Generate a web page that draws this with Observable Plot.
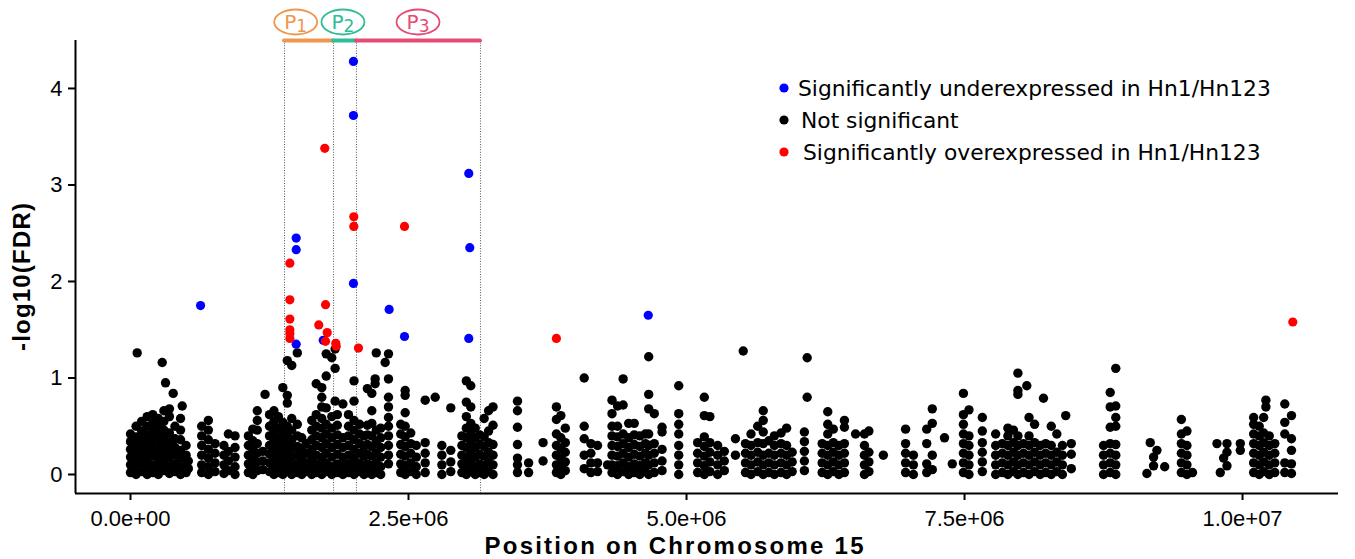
<!DOCTYPE html>
<html>
<head>
<meta charset="utf-8">
<script src="https://cdn.jsdelivr.net/npm/d3@7"></script>
<script src="https://cdn.jsdelivr.net/npm/@observablehq/plot@0.6"></script>
<style>
  html, body { margin: 0; padding: 0; background: #fff; }
  #chart { position: relative; width: 1355px; height: 559px; overflow: hidden; }
  #chart svg g[aria-label*="axis"] path,
  #chart svg g[aria-label*="axis"] line { stroke-width: 2px; stroke: #000; }
</style>
</head>
<body>
<div id="chart"></div>
<script>
// ---------- data (positions in Mb on chromosome 15, values = -log10(FDR)) ----------
const xTickValues = [0, 2.5, 5, 7.5, 10];
const xTickLabels = ["0.0e+00", "2.5e+06", "5.0e+06", "7.5e+06", "1.0e+07"];
const yTickValues = [0, 1, 2, 3, 4];
const yTickLabels = ["0", "1", "2", "3", "4"];

const regionNames = ["1", "2", "3"];
const regionStart = [1.385, 1.826, 2.032];
const regionEnd = [1.826, 2.032, 3.147];
const regionLabelAt = [1.49, 1.915, 2.59];
const regionColors = ["#F0964F", "#2EBD96", "#E64B74"];

const legendLabels = [
  "Significantly underexpressed in Hn1/Hn123",
  "Not significant",
  "Significantly overexpressed in Hn1/Hn123"
];
const legendColors = ["#0000FF", "#000000", "#FF0000"];

const underexpressed = [
  [0.63, 1.75], [1.49, 2.45], [1.49, 2.33], [1.49, 1.35], [1.733, 1.39],
  [2.005, 4.28], [2.005, 3.72], [2.005, 1.98], [2.326, 1.71], [2.464, 1.43],
  [3.042, 3.12], [3.051, 2.35], [3.042, 1.41], [4.656, 1.65]
];

const overexpressed = [
  [1.747, 3.38], [1.433, 2.19], [1.433, 1.81], [1.433, 1.61], [1.433, 1.50],
  [1.433, 1.46], [1.433, 1.41], [1.693, 1.55], [1.754, 1.76], [1.769, 1.47],
  [1.754, 1.38], [1.846, 1.36], [1.85, 1.33], [2.008, 2.67], [2.008, 2.57],
  [2.464, 2.57], [2.05, 1.31], [3.83, 1.41], [10.452, 1.58]
];

const notSignificant = [
  [0.00, [0.02,0.1,0.18,0.26,0.34,0.42]],
  [0.05, [0,0.07,0.15,0.23,0.31,0.39,0.5]],
  [0.06, [1.26]],
  [0.10, [0.03,0.12,0.2,0.28,0.36,0.45,0.55]],
  [0.15, [0,0.08,0.16,0.25,0.33,0.41,0.5,0.6]],
  [0.20, [0.02,0.1,0.19,0.27,0.36,0.44,0.53,0.62]],
  [0.25, [0,0.09,0.17,0.25,0.34,0.42,0.5,0.58]],
  [0.285, [1.16]],
  [0.30, [0.04,0.12,0.2,0.29,0.37,0.46,0.55,0.66]],
  [0.315, [0.95]],
  [0.35, [0.01,0.09,0.18,0.26,0.34,0.43,0.6,0.68]],
  [0.384, [0.84]],
  [0.40, [0.03,0.11,0.2,0.28,0.37,0.5]],
  [0.45, [0,0.08,0.17,0.25,0.36,0.46,0.58]],
  [0.465, [0.71]],
  [0.50, [0.02,0.1,0.2,0.3]],
  [0.52, [0.06,0.14]],
  [0.64, [0.02,0.1,0.2,0.3,0.4,0.5]],
  [0.70, [0,0.08,0.17,0.26,0.36,0.46,0.56]],
  [0.76, [0.03,0.12,0.22,0.32]],
  [0.84, [0.01,0.1,0.2,0.3]],
  [0.88, [0.04,0.14,0.24,0.42]],
  [0.94, [0,0.08,0.18,0.28,0.4]],
  [1.06, [0.02,0.11,0.2,0.3,0.4]],
  [1.10, [0,0.08,0.17,0.26,0.35,0.47]],
  [1.14, [0.04,0.13,0.22,0.32,0.46,0.56,0.66]],
  [1.19, [0.05,0.14,0.24]],
  [1.21, [0.83]],
  [1.25, [0.03,0.12,0.21,0.3,0.4,0.5,0.62]],
  [1.29, [0,0.09,0.18,0.27,0.36,0.45,0.55,0.66]],
  [1.33, [0.02,0.11,0.2,0.29,0.38,0.48,0.6]],
  [1.37, [0,0.08,0.17,0.26,0.35,0.44,0.54,0.9]],
  [1.41, [0.03,0.12,0.21,0.3,0.4,0.5,0.74,0.82,1.18]],
  [1.45, [0,0.09,0.18,0.27,0.36,0.46,0.58,1.13]],
  [1.50, [0.02,0.11,0.2,0.29,0.4,0.52,1.26]],
  [1.54, [0,0.08,0.17,0.27,0.38]],
  [1.58, [0.03,0.12,0.22,0.32]],
  [1.63, [0,0.08,0.17,0.26,0.36,0.46,0.56]],
  [1.67, [0.02,0.11,0.2,0.3,0.4,0.5,0.62,0.94]],
  [1.72, [0,0.09,0.18,0.28,0.38,0.48,0.58,0.7,0.8,0.9]],
  [1.76, [0.03,0.12,0.22,0.32,0.42,0.52,0.69,1.02,1.25]],
  [1.81, [0,0.08,0.18,0.28,0.38,0.48,0.6,1.21]],
  [1.84, [0.76,1.1,1.3]],
  [1.86, [0.02,0.11,0.21,0.31,0.41,0.51,0.62]],
  [1.91, [0,0.09,0.18,0.28,0.38,0.73]],
  [1.96, [0.02,0.11,0.2,0.3,0.4,0.5,0.62]],
  [2.01, [0,0.08,0.17,0.26,0.36,0.46,0.56,0.76,0.97]],
  [2.06, [0.03,0.12,0.22,0.32,0.42,0.52]],
  [2.10, [0,0.09,0.19,0.29,0.4]],
  [2.13, [0.02,0.11,0.21,0.31,0.41,0.51,0.89]],
  [2.17, [0,0.09,0.19,0.29,0.4,0.53,0.66,0.84]],
  [2.20, [0.94,0.99]],
  [2.21, [0.02,0.12,0.22,0.34,0.46,1.26]],
  [2.25, [0,0.08,0.18,0.28,0.38,0.48]],
  [2.29, [1.16]],
  [2.32, [0.11,0.2,0.3,0.4,0.5,0.59,0.7,0.8,0.99,1.25]],
  [2.43, [0.02,0.11,0.21,0.31,0.42,0.52]],
  [2.47, [0,0.09,0.19,0.29,0.39,0.5,0.64,0.82,0.87]],
  [2.52, [0.03,0.12,0.22,0.32,0.43]],
  [2.57, [0,0.08,0.18,0.3]],
  [2.65, [0.02,0.12,0.22,0.33,0.77]],
  [2.74, [0.8]],
  [2.80, [0,0.1,0.2,0.3]],
  [2.88, [0.03,0.13,0.25,0.69]],
  [2.98, [0.02,0.11,0.2,0.3,0.4]],
  [3.02, [0,0.09,0.18,0.28,0.38,0.48,0.6,0.75,0.97]],
  [3.06, [0.03,0.12,0.22,0.32,0.42,0.53,0.7,0.92]],
  [3.10, [0,0.08,0.18,0.28,0.38,0.48]],
  [3.14, [0.02,0.11,0.21,0.31,0.41]],
  [3.18, [0,0.09,0.19,0.29,0.39,0.58]],
  [3.22, [0.03,0.13,0.23,0.33,0.45,0.66]],
  [3.26, [0,0.1,0.2,0.31,0.51,0.7]],
  [3.48, [0.02,0.1,0.17,0.31,0.49,0.66,0.76]],
  [3.58, [0.02,0.12]],
  [3.71, [0.14,0.33]],
  [3.83, [0.02,0.1,0.2,0.3,0.42,0.57,0.7]],
  [3.87, [0,0.08,0.17,0.27,0.38,0.61]],
  [3.91, [0.04,0.13,0.23,0.33,0.48]],
  [4.08, [0.06,0.2,0.37,0.5,1.0]],
  [4.14, [0.02,0.12,0.22,0.32]],
  [4.20, [0.03,0.12,0.3]],
  [4.29, [0.1]],
  [4.33, [0.02,0.1,0.2,0.3,0.4,0.5,0.63,0.77]],
  [4.38, [0,0.09,0.19,0.29,0.39,0.5,0.71]],
  [4.43, [0.03,0.12,0.22,0.32,0.42,0.72,0.99]],
  [4.48, [0,0.08,0.18,0.28,0.38,0.53]],
  [4.53, [0.02,0.11,0.21,0.31,0.41,0.53]],
  [4.58, [0,0.09,0.19,0.29,0.4]],
  [4.63, [0.03,0.12,0.22,0.32,0.42]],
  [4.66, [0,0.1,0.2,0.3,0.42,0.68,0.83,1.22]],
  [4.71, [0.02,0.12,0.22,0.32,0.63]],
  [4.78, [0.04,0.14,0.26,0.44,0.49]],
  [4.93, [0,0.1,0.2,0.3,0.42,0.52,0.63,0.92]],
  [5.10, [0.02,0.12,0.22,0.33]],
  [5.16, [0,0.09,0.19,0.29,0.39,0.61,0.8]],
  [5.21, [0.03,0.13,0.23,0.33,0.6]],
  [5.28, [0,0.1,0.2,0.3]],
  [5.34, [0.04,0.14,0.24]],
  [5.44, [0.2,0.37]],
  [5.51, [1.28]],
  [5.53, [0.02,0.12,0.22,0.32]],
  [5.58, [0,0.1,0.2,0.3,0.42]],
  [5.64, [0.03,0.13,0.23,0.33,0.5]],
  [5.69, [0,0.1,0.2,0.32,0.44,0.56,0.66]],
  [5.74, [0.02,0.12,0.22,0.35]],
  [5.79, [0,0.1,0.2,0.3,0.4]],
  [5.85, [0.02,0.12,0.22,0.32,0.43]],
  [5.90, [0,0.1,0.2,0.3,0.48]],
  [5.95, [0.03,0.13,0.23]],
  [6.06, [0.04,0.14,0.24,0.34,0.44]],
  [6.085, [0.8,1.21]],
  [6.22, [0.02,0.12,0.22,0.32]],
  [6.27, [0,0.1,0.2,0.3,0.42,0.52,0.65]],
  [6.32, [0.03,0.13,0.23,0.33,0.47]],
  [6.37, [0,0.1,0.2,0.3]],
  [6.42, [0.02,0.12,0.22,0.32,0.49,0.56]],
  [6.52, [0.42]],
  [6.60, [0,0.1,0.2,0.3,0.42]],
  [6.64, [0.03,0.13,0.23,0.45]],
  [6.77, [0.2]],
  [6.97, [0.02,0.12,0.22,0.32,0.47]],
  [7.04, [0,0.1,0.2]],
  [7.16, [0.02,0.11,0.32,0.47]],
  [7.21, [0.05,0.2,0.53,0.68]],
  [7.32, [0.38]],
  [7.39, [0.11]],
  [7.49, [0.02,0.12,0.22,0.32,0.42,0.52,0.62,0.84]],
  [7.54, [0,0.1,0.2,0.3,0.4,0.67]],
  [7.66, [0.03,0.13,0.23,0.33,0.45,0.59]],
  [7.78, [0,0.1,0.2,0.3,0.42]],
  [7.84, [0.02,0.12,0.22,0.32]],
  [7.89, [0,0.1,0.2,0.3,0.4,0.48]],
  [7.94, [0.03,0.13,0.23,0.33,0.46]],
  [7.98, [0,0.1,0.2,0.3,0.4,0.83,0.87,1.05]],
  [8.03, [0.02,0.12,0.22,0.32]],
  [8.06, [0.92]],
  [8.08, [0,0.1,0.2,0.3,0.4,0.59]],
  [8.13, [0.03,0.13,0.23,0.33,0.52]],
  [8.18, [0,0.1,0.2,0.3]],
  [8.21, [0.79]],
  [8.23, [0.02,0.12,0.22,0.32]],
  [8.28, [0,0.1,0.2,0.3,0.5]],
  [8.33, [0.03,0.13,0.23,0.42]],
  [8.38, [0,0.1,0.2,0.3]],
  [8.41, [0.61]],
  [8.46, [0.06,0.21,0.32]],
  [8.75, [0,0.1,0.2,0.3]],
  [8.81, [0.02,0.12,0.22,0.32,0.49,0.7,0.85]],
  [8.86, [0,0.1,0.2,0.31,0.5,0.59,0.71,1.1]],
  [9.14, [0.01]],
  [9.17, [0.33]],
  [9.20, [0.09,0.18]],
  [9.23, [0.25]],
  [9.30, [0.08]],
  [9.45, [0.02,0.12,0.22,0.32,0.42,0.57]],
  [9.50, [0,0.1,0.2,0.3,0.45]],
  [9.55, [0.02]],
  [9.77, [0.32]],
  [9.80, [0.02]],
  [9.83, [0.17]],
  [9.86, [0.09,0.23,0.32]],
  [9.98, [0.25,0.32]],
  [10.10, [0.02,0.12,0.22,0.32,0.42,0.52,0.59]],
  [10.15, [0,0.1,0.2,0.3,0.4,0.5]],
  [10.19, [0.03,0.13,0.23,0.33,0.43,0.59]],
  [10.21, [0.7,0.77]],
  [10.24, [0,0.1,0.2,0.3,0.4]],
  [10.29, [0.02,0.12,0.22,0.32]],
  [10.38, [0.02,0.12,0.42,0.54,0.73]],
  [10.44, [0.01,0.11,0.25,0.37,0.61]]
];

// ---------- build tables ----------
const nsRows = notSignificant.flatMap(([pos, vals]) => vals.map(v => ({pos, fdr: v})));
const underRows = underexpressed.map(([pos, fdr]) => ({pos, fdr}));
const overRows = overexpressed.map(([pos, fdr]) => ({pos, fdr}));
const regions = regionNames.map((n, i) => ({name: n, start: regionStart[i], end: regionEnd[i], at: regionLabelAt[i], color: regionColors[i]}));
const boundaries = Array.from(new Set([...regionStart, ...regionEnd])).sort((a, b) => a - b);

const xDomain = [-0.4946, 10.863];
const yDomain = [-0.197, 4.497];

const chart = Plot.plot({
  width: 1355,
  height: 559,
  marginLeft: 75,
  marginRight: 17,
  marginTop: 40,
  marginBottom: 66,
  style: {fontFamily: "'Liberation Sans', Arial, sans-serif", fontSize: "22px", color: "#000", background: "#fff", overflow: "visible"},
  x: {domain: xDomain, ticks: xTickValues, tickFormat: d => xTickLabels[xTickValues.indexOf(d)], tickSize: 7, tickPadding: 10, label: null},
  y: {domain: yDomain, ticks: yTickValues, tickFormat: d => yTickLabels[yTickValues.indexOf(d)], tickSize: 7, tickPadding: 6, label: null},
  marks: [
    Plot.ruleX(boundaries, {stroke: "#555", strokeWidth: 1, strokeDasharray: "1,1.6"}),
    Plot.ruleY([yDomain[0]], {stroke: "#000", strokeWidth: 2}),
    Plot.ruleX([xDomain[0]], {stroke: "#000", strokeWidth: 2}),
    Plot.dot(nsRows, {x: "pos", y: "fdr", r: 4.7, fill: "#000"}),
    Plot.dot(underRows, {x: "pos", y: "fdr", r: 4.6, fill: "#0000FF"}),
    Plot.dot(overRows, {x: "pos", y: "fdr", r: 4.6, fill: "#FF0000"}),
    ...regions.map(r => Plot.ruleY([r], {y: () => yDomain[1], x1: "start", x2: "end", stroke: r.color, strokeWidth: 4, strokeLinecap: "round"}))
  ]
});

document.getElementById("chart").appendChild(chart);

// ---------- annotations placed through the plot's scales ----------
const svg = d3.select(chart.tagName.toLowerCase() === "svg" ? chart : chart.querySelector("svg"));
const xs = chart.scale("x");
const X = xs.apply ? (v => xs.apply(v)) : d3.scaleLinear(xs.domain, xs.range);

// region labels (P1, P2, P3) in ellipses above the panel
const lab = svg.append("g").attr("font-family", "'DejaVu Sans', sans-serif");
regions.forEach(r => {
  const cx = X(r.at);
  lab.append("ellipse").attr("cx", cx).attr("cy", 22).attr("rx", 21.5).attr("ry", 12.5)
    .attr("fill", "none").attr("stroke", r.color).attr("stroke-width", 1.8);
  const t = lab.append("text").attr("x", cx).attr("y", 28.5).attr("text-anchor", "middle")
    .attr("fill", r.color).attr("font-size", 20);
  t.append("tspan").text("P");
  t.append("tspan").attr("font-size", 17).attr("dy", 3.5).text(r.name);
});

// legend
const legendY = [88, 120, 152];
const legendTextX = [798, 801, 803];
const leg = svg.append("g").attr("font-family", "'DejaVu Sans', sans-serif").attr("font-size", 21.8).attr("text-anchor", "start");
legendLabels.forEach((l, i) => {
  leg.append("circle").attr("cx", 784).attr("cy", legendY[i]).attr("r", 4.6).attr("fill", legendColors[i]);
  leg.append("text").attr("x", legendTextX[i]).attr("y", legendY[i]).attr("dy", "0.36em")
    .attr("text-anchor", "start").attr("fill", "#000").text(l);
});

// axis titles
svg.append("text")
  .attr("x", 674).attr("y", 554).attr("text-anchor", "middle")
  .attr("font-family", "'Liberation Sans', Arial, sans-serif").attr("font-weight", "bold").attr("font-size", 24)
  .attr("textLength", 379).attr("lengthAdjust", "spacing")
  .attr("fill", "#000").text("Position on Chromosome 15");
svg.append("text")
  .attr("transform", "translate(30,277) rotate(-90)").attr("text-anchor", "middle")
  .attr("font-family", "'Liberation Sans', Arial, sans-serif").attr("font-weight", "bold").attr("font-size", 24)
  .attr("textLength", 148).attr("lengthAdjust", "spacing")
  .attr("fill", "#000").text("-log10(FDR)");
</script>
</body>
</html>
